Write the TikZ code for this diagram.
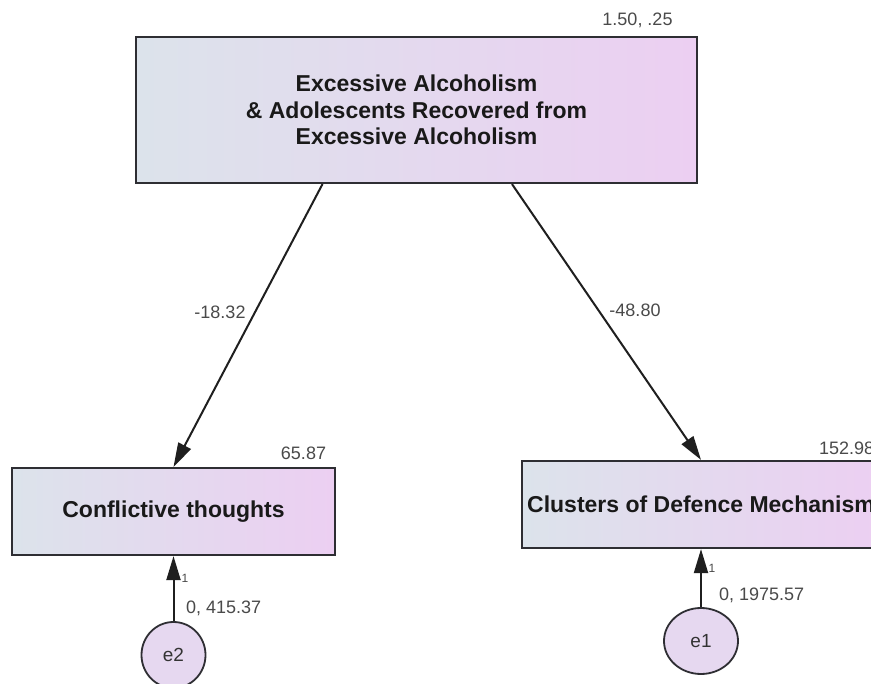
\documentclass[tikz,border=0pt]{standalone}
\usepackage{fontspec}
\setmainfont{Liberation Sans}
\usetikzlibrary{arrows.meta,shapes.geometric}
\definecolor{boxleft}{HTML}{DCE3EB}
\definecolor{boxright}{HTML}{ECCFF2}
\definecolor{errfill}{HTML}{E6D8F0}
\definecolor{edge}{HTML}{2E2E33}
\definecolor{labgray}{HTML}{4A4A4A}
\tikzset{
  varbox/.style={draw=edge, line width=2.2pt, rectangle, inner sep=0pt,
    left color=boxleft, right color=boxright, align=center,
    font=\fontsize{23}{26.5}\selectfont\bfseries, text=black!90},
  errnode/.style={draw=edge, line width=1.8pt, ellipse, inner sep=0pt,
    fill=errfill, font=\fontsize{19}{22}\selectfont, text=black!80},
  path/.style={draw=black!88, line width=2pt,
    -{Triangle[length=24pt,width=14pt]}},
  num/.style={font=\fontsize{18}{20}\selectfont, text=labgray, inner sep=0pt},
  one/.style={font=\fontsize{12}{14}\selectfont, text=labgray, inner sep=0pt}
}
\begin{document}
\begin{tikzpicture}[x=1pt,y=-1pt]
\clip (0,0) rectangle (871,684);
\fill[white] (0,0) rectangle (871,684);
% nodes
\node[varbox, minimum width=561pt, minimum height=146pt] (top) at (416.5,110)
  {Excessive Alcoholism\\\& Adolescents Recovered from\\Excessive Alcoholism};
\node[varbox, minimum width=323pt, minimum height=87pt] (ct) at (173.5,511.5)
  {Conflictive thoughts};
\node[varbox, minimum width=358pt, minimum height=87pt] (cd) at (701,504.5)
  {Clusters of Defence Mechanism};
\node[errnode, minimum width=64pt, minimum height=66pt] (e2) at (173.5,655) {e2};
\node[errnode, minimum width=74pt, minimum height=66pt] (e1) at (701,641) {e1};
% connectors
\draw[path] ([xshift=-94pt]top.south) -- (ct.north);
\draw[path] ([xshift=95.5pt]top.south) -- (cd.north);
\draw[path] (e2.north) -- (ct.south);
\draw[path] (e1.north) -- (cd.south);
% labels
\node[num] (l1) at (637.5,20) {1.50, .25};
\node[num] (l2) at (303.5,453) {65.87};
\node[num, anchor=west] (l3) at (819,448) {152.98};
\node[num] (l4) at (220,312) {-18.32};
\node[num] (l5) at (635,310) {-48.80};
\node[num, anchor=west] (l6) at (186,608) {0, 415.37};
\node[num, anchor=west] (l7) at (719,595) {0, 1975.57};
\node[one] (o1) at (185,578) {1};
\node[one] (o2) at (712,568) {1};
\end{tikzpicture}
\end{document}
